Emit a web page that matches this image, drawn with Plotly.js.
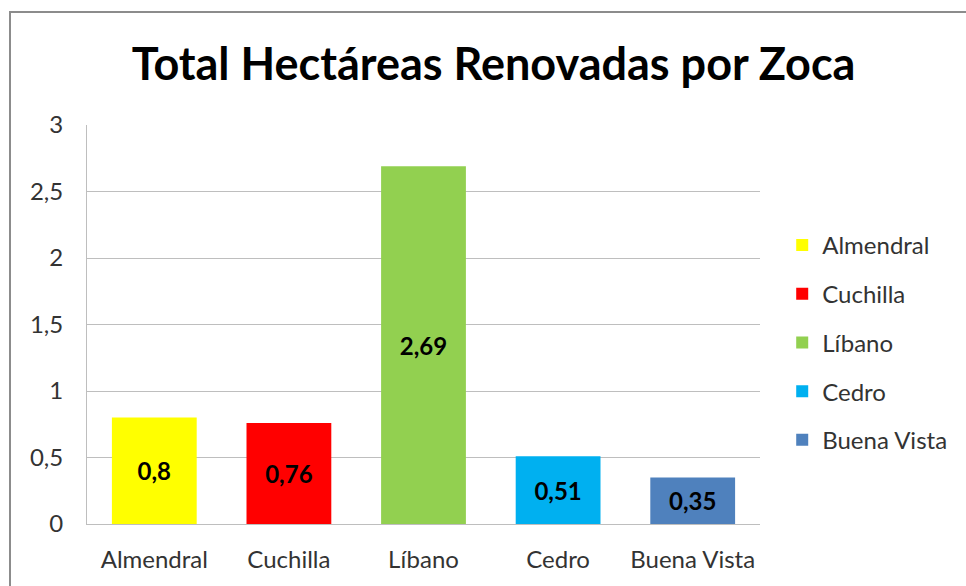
<!DOCTYPE html>
<html>
<head>
<meta charset="utf-8">
<script src="https://cdn.plot.ly/plotly-3.0.1.min.js"></script>
<style>
html,body{margin:0;padding:0;background:#fff;}
#wrap{position:relative;width:966px;height:586px;overflow:hidden;}
#chart{width:966px;height:586px;}
#frame{position:absolute;left:9px;top:11px;width:1000px;height:600px;border:2px solid #8c8c8c;pointer-events:none;box-sizing:border-box;}
</style>
</head>
<body>
<div id="wrap"><div id="chart"></div><div id="frame"></div></div>
<script>
var categories = ["Almendral", "Cuchilla", "Líbano", "Cedro", "Buena Vista"];
var values = [0.8, 0.76, 2.69, 0.51, 0.35];
var labels = ["0,8", "0,76", "2,69", "0,51", "0,35"];
var colors = ["#FFFF00", "#FF0000", "#92D050", "#00B0F0", "#4F81BD"];
var yTicks = [0, 0.5, 1, 1.5, 2, 2.5, 3];
var yTickText = ["0", "0,5", "1", "1,5", "2", "2,5", "3"];

var FONT = "Lato, 'Open Sans', sans-serif";
var traces = categories.map(function(c, i){
  return {
    type: "bar",
    name: c,
    x: [c],
    y: [values[i]],
    text: [labels[i]],
    textposition: "inside",
    insidetextanchor: "middle",
    textangle: 0,
    textfont: {family: FONT, size: 24, color: "#000", weight: "bold"},
    marker: {color: colors[i]},
    width: 0.63,
    legendgroup: "g" + i,
    hoverinfo: "skip"
  };
});

var layout = {
  width: 966, height: 586,
  margin: {l: 87, r: 206, t: 125, b: 62},
  paper_bgcolor: "#fff",
  plot_bgcolor: "#fff",
  separators: ",.",
  barmode: "overlay",
  showlegend: true,
  title: {
    text: "<b>Total Hectáreas Renovadas por Zoca</b>",
    font: {family: FONT, size: 45, color: "#000"},
    x: 0.511, xanchor: "center", xref: "container",
    y: 0.891, yanchor: "middle", yref: "container"
  },
  xaxis: {
    categoryorder: "array", categoryarray: categories,
    showgrid: false, zeroline: false,
    showline: true, linecolor: "#BEBEBE", linewidth: 1,
    ticks: "outside", ticklen: 14, tickcolor: "rgba(0,0,0,0)",
    tickfont: {family: FONT, size: 24, color: "#333"},
    fixedrange: true
  },
  yaxis: {
    range: [0, 3],
    tickvals: yTicks, ticktext: yTickText,
    showgrid: true, gridcolor: "#BEBEBE", gridwidth: 1,
    zeroline: false,
    showline: true, linecolor: "#BEBEBE", linewidth: 1,
    ticks: "outside", ticklen: 18, tickcolor: "rgba(0,0,0,0)",
    tickfont: {family: FONT, size: 24, color: "#333"},
    fixedrange: true
  },
  legend: {
    x: 1.033, xanchor: "left",
    y: 0.455, yanchor: "middle",
    font: {family: FONT, size: 24, color: "#333"},
    tracegroupgap: 14.5,
    itemwidth: 30,
    bgcolor: "rgba(0,0,0,0)"
  }
};

Plotly.newPlot("chart", traces, layout, {displayModeBar: false, staticPlot: true});
</script>
</body>
</html>
